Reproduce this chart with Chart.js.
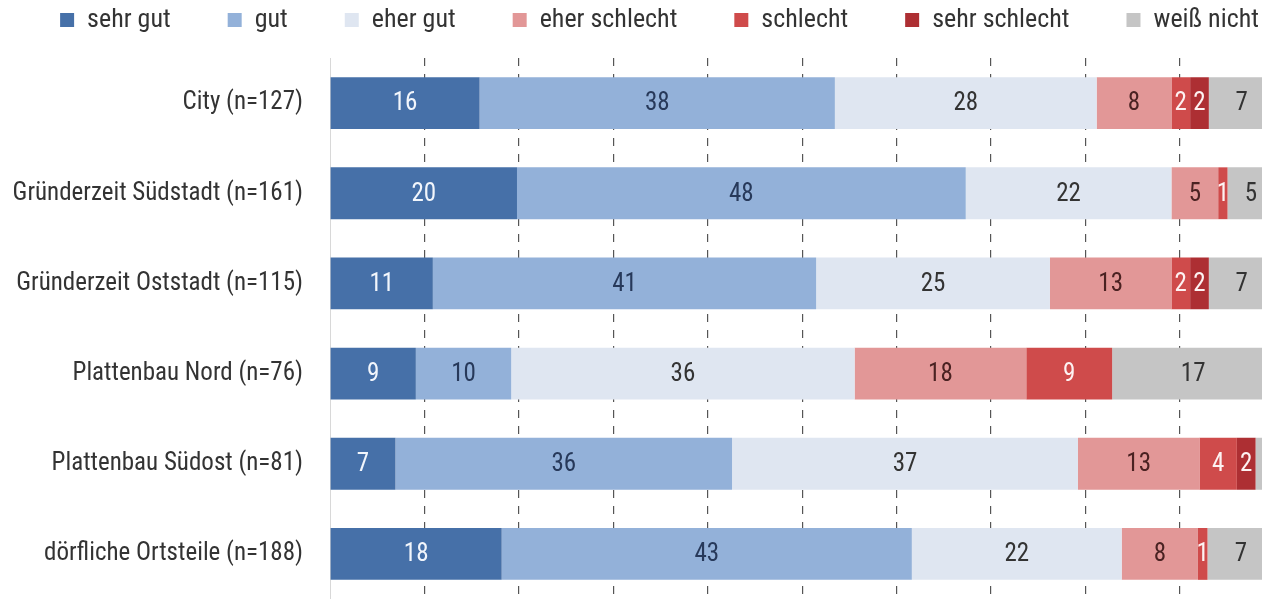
<!DOCTYPE html>
<html>
<head>
<meta charset="utf-8">
<script src="https://cdn.jsdelivr.net/npm/chart.js@4/dist/chart.umd.min.js"></script>
<style>
  html, body { margin: 0; padding: 0; background: #fff; overflow: hidden; }
  canvas { display: block; }
</style>
</head>
<body>
<canvas id="c" width="1262" height="599"></canvas>
<script>
const FONT = '"Roboto Condensed", "DejaVu Sans Condensed", sans-serif';

const categories = [
  "City (n=127)",
  "Gründerzeit Südstadt (n=161)",
  "Gründerzeit Oststadt (n=115)",
  "Plattenbau Nord (n=76)",
  "Plattenbau Südost (n=81)",
  "dörfliche Ortsteile (n=188)",
];

const seriesNames = ["sehr gut", "gut", "eher gut", "eher schlecht", "schlecht", "sehr schlecht", "weiß nicht"];

// percent values per row, as printed in the bars
const sehrGut      = [16, 20, 11, 9, 7, 18];
const gut          = [38, 48, 41, 10, 36, 43];
const eherGut      = [28, 22, 25, 36, 37, 22];
const eherSchlecht = [8, 5, 13, 18, 13, 8];
const schlecht     = [2, 1, 2, 9, 4, 1];
const sehrSchlecht = [2, 0, 2, 0, 2, 0];
const weissNicht   = [7, 5, 7, 17, 2, 7];

const xTicks = [0, 10, 20, 30, 40, 50, 60, 70, 80, 90];

const colors      = ["#4670a8", "#93b1d9", "#dfe6f1", "#e29797", "#cf4b4b", "#ad2f33", "#c5c5c5"];
const labelColors = ["#f2f6fc", "#27395a", "#333333", "#4a2222", "#fdf2f2", "#fdf2f2", "#333333"];

const series = [sehrGut, gut, eherGut, eherSchlecht, schlecht, sehrSchlecht, weissNicht];

// each row is a 100% bar
const rowSums = categories.map((_, i) => series.reduce((s, arr) => s + arr[i], 0));

const datasets = series.map((arr, k) => ({
  label: seriesNames[k],
  data: arr.map((v, i) => (v / rowSums[i]) * 100),
  raw: arr,
  backgroundColor: colors[k],
  borderWidth: 0,
  categoryPercentage: 1,
  barPercentage: 0.575,
}));

const barLabels = {
  id: "barLabels",
  afterDatasetsDraw(chart) {
    const { ctx, chartArea } = chart;
    ctx.save();
    ctx.font = "25px " + FONT;
    ctx.textAlign = "center";
    ctx.textBaseline = "middle";
    chart.data.datasets.forEach((ds, k) => {
      const meta = chart.getDatasetMeta(k);
      if (meta.hidden) return;
      meta.data.forEach((bar, i) => {
        const v = ds.raw[i];
        if (!v) return;
        const x = (bar.x + bar.base) / 2;
        if (x > chartArea.right - 2) return; // cut off at the picture edge
        ctx.fillStyle = labelColors[k];
        ctx.fillText(String(v), x, bar.y + 1);
      });
    });
    ctx.restore();
  },
};

const LEGEND_PAD = 57;

new Chart(document.getElementById("c"), {
  type: "bar",
  data: { labels: categories, datasets },
  plugins: [barLabels],
  options: {
    indexAxis: "y",
    responsive: false,
    animation: false,
    // legend padding is also applied vertically, pull it back up;
    // the negative right padding gives the legend room for one line
    layout: { padding: { left: 0, right: -57, top: 20 - 13 - LEGEND_PAD, bottom: -2 } },
    plugins: {
      legend: {
        position: "top",
        align: "center",
        labels: {
          boxWidth: 14,
          boxHeight: 14,
          padding: LEGEND_PAD,
          color: "#333",
          font: { family: FONT, size: 26 },
        },
      },
      tooltip: { enabled: false },
    },
    scales: {
      x: {
        stacked: true,
        min: 0,
        max: 98.7, // the 100% end lies just past the right edge
        afterBuildTicks(scale) {
          scale.ticks = xTicks.map((v) => ({ value: v }));
        },
        afterFit(scale) { scale.height = 0; },
        ticks: { display: false },
        grid: {
          drawTicks: false,
          color: (ctx) => (ctx.tick && ctx.tick.value === 0 ? "rgba(0,0,0,0)" : "#555"),
          lineWidth: 1.2,
        },
        border: { display: false, dash: [8, 8] },
      },
      // empty strip between legend and bars
      xTop: {
        type: "linear",
        axis: "x",
        position: "top",
        ticks: { display: false },
        grid: { display: false, drawTicks: false },
        border: { display: false },
        afterFit(scale) { scale.height = 15; },
      },
      y: {
        stacked: true,
        afterFit(scale) {
          scale.width = 330;
          // tick padding would otherwise reserve space below the last row
          scale.paddingTop = 0;
          scale.paddingBottom = 0;
        },
        grid: { display: false, drawTicks: false },
        border: { display: true, color: "#d8d8d8", width: 1 },
        ticks: {
          color: "#333",
          padding: 27,
          font: { family: FONT, size: 25 },
        },
      },
    },
  },
});
</script>
</body>
</html>
